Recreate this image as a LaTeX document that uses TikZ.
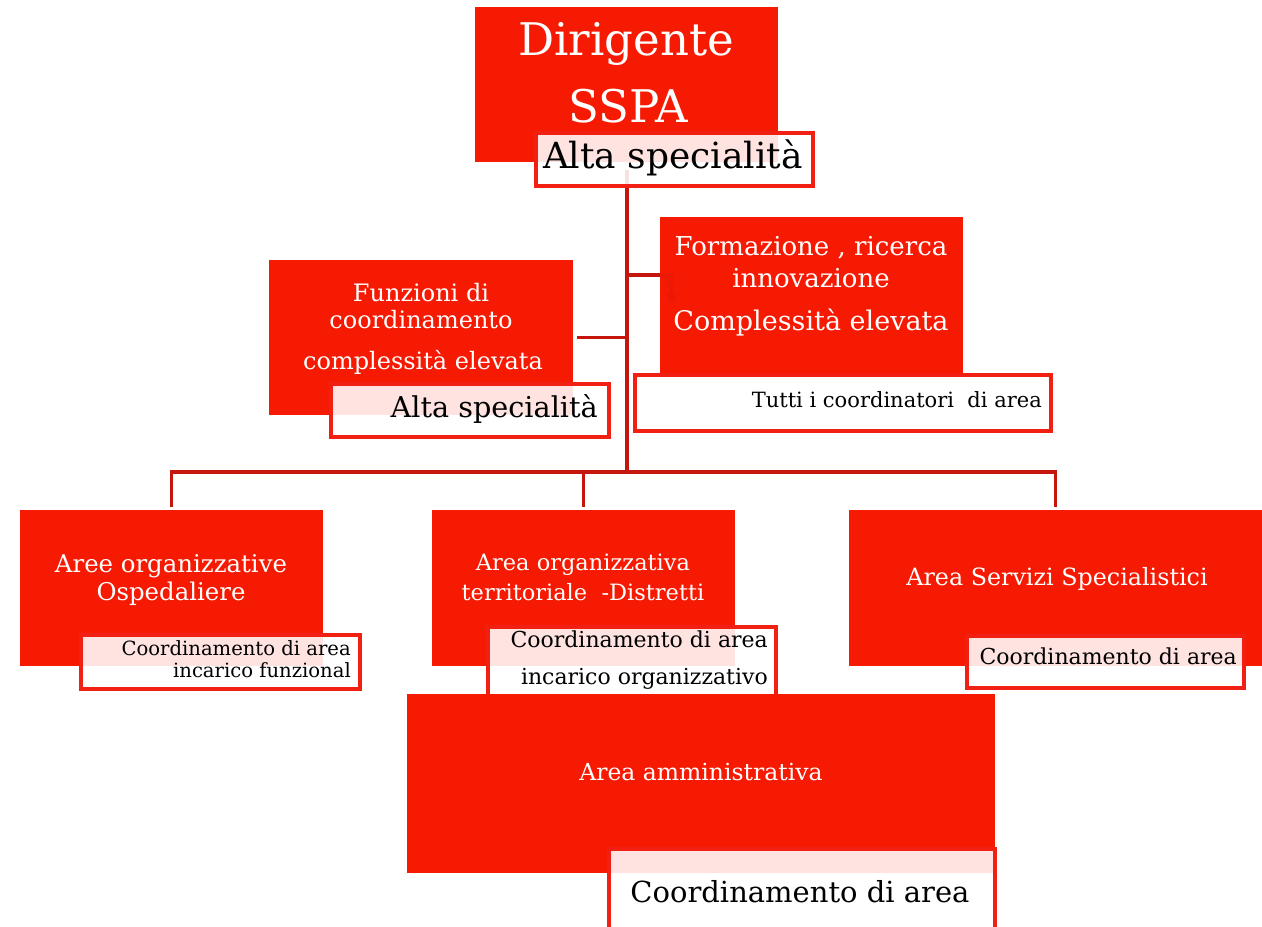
\documentclass[tikz,border=0pt]{standalone}
\usepackage{fontspec}
\setmainfont{DejaVu Serif}
\usetikzlibrary{arrows.meta}
\definecolor{boxred}{RGB}{247,26,2}
\definecolor{linered}{RGB}{196,22,12}
\definecolor{subred}{RGB}{242,32,18}
\tikzset{
  redbox/.style={fill=boxred, draw=none, inner sep=0pt, anchor=north west},
  subbox/.style={fill=white, fill opacity=0.88, draw=subred, draw opacity=1, line width=3.5pt, inner sep=0pt, anchor=north west},
  conn/.style={draw=linered, line width=3.5pt},
  wtxt/.style={text=white, inner sep=0pt, anchor=base},
  btxt/.style={text=black, inner sep=0pt, anchor=base east},
  fs/.style={font=\fontsize{#1}{#1}\selectfont},
}
\begin{document}
\begin{tikzpicture}[x=1pt,y=-1pt]
\useasboundingbox[fill=white] (0,0) rectangle (1262,927);

% ---- named points for connectors
\coordinate (trunkTop) at (627,170);
\coordinate (bus) at (627,472);
\coordinate (fbranch) at (627,275);
\coordinate (farrow) at (672,305);

% ---- boxes
\node[redbox, minimum width=303pt, minimum height=155pt] (dir) at (475,7) {};
\node[redbox, minimum width=304pt, minimum height=155pt] (funz) at (269,260) {};
\node[redbox, minimum width=303pt, minimum height=156pt] (aree) at (20,510) {};
\node[redbox, minimum width=303pt, minimum height=156pt] (terr) at (432,510) {};
\node[redbox, minimum width=413pt, minimum height=156pt] (serv) at (849,510) {};

\draw[conn] (trunkTop) -- (bus);
\draw[conn] ([yshift=3pt]aree.north) |- (bus) -| ([yshift=3pt]serv.north);
\draw[conn] ([yshift=3pt]terr.north) -- (terr.north |- bus);
\draw[conn] ([xshift=4pt]funz.east) -- (funz.east -| bus);
\draw[conn, -{Triangle[length=12pt,width=14pt]}] (fbranch) -| (farrow);

\node[redbox, minimum width=303pt, minimum height=156pt] (form) at (660,217) {};
\draw[conn, draw opacity=0.12, fill opacity=0.12, fill=linered, -{Triangle[length=12pt,width=14pt]}] (form.west |- fbranch) -| (farrow);

% ---- sub boxes
\node[subbox, minimum width=277pt, minimum height=53pt] (alta1) at (534,131) {};
\node[subbox, minimum width=278pt, minimum height=53pt] (alta2) at (329,382) {};
\node[subbox, minimum width=416pt, minimum height=56pt] (tutti) at (633,373) {};
\node[subbox, minimum width=279pt, minimum height=54pt] (areesub) at (79,633) {};
\node[subbox, minimum width=288pt, minimum height=80pt] (terrsub) at (486,625) {};
\node[subbox, minimum width=277pt, minimum height=52pt] (servsub) at (965,634) {};

\node[redbox, minimum width=588pt, minimum height=179pt] (amm) at (407,694) {};
\node[subbox, minimum width=386pt, minimum height=95pt] (ammsub) at (607,847) {};

% ---- texts
\node[wtxt, fs=45] (tdir1) at (626,55) {Dirigente};
\node[wtxt, fs=45] (tdir2) at (628,122) {SSPA};
\node[btxt, fs=36] (talta1) at (803,168) {Alta specialità};

\node[wtxt, fs=24] (tfunz1) at (421,301) {Funzioni di};
\node[wtxt, fs=24] (tfunz2) at (421,328) {coordinamento};
\node[wtxt, fs=24] (tfunz3) at (423,369) {complessità elevata};
\node[btxt, fs=28.7] (talta2) at (598,417) {Alta specialità};

\node[wtxt, fs=26] (tform1) at (811,255) {Formazione , ricerca};
\node[wtxt, fs=26] (tform2) at (811,287) {innovazione};
\node[wtxt, fs=27] (tform3) at (811,330) {Complessità elevata};
\node[btxt, fs=21] (ttutti) at (1042,407) {Tutti i coordinatori~ di area};

\node[wtxt, fs=24.4] (taree1) at (171,572) {Aree organizzative};
\node[wtxt, fs=24.4] (taree2) at (171,600) {Ospedaliere};
\node[btxt, fs=19.6] (tareesub1) at (351,655) {Coordinamento di area};
\node[btxt, fs=19.6] (tareesub2) at (351,677) {incarico funzional};

\node[wtxt, fs=22.5] (tterr1) at (583,570) {Area organizzativa};
\node[wtxt, fs=22.5] (tterr2) at (583,600) {territoriale~ -Distretti};
\node[btxt, fs=22] (tterrsub1) at (768,647) {Coordinamento di area};
\node[btxt, fs=22] (tterrsub2) at (768,684) {incarico organizzativo};

\node[wtxt, fs=23.8] (tserv) at (1057,585) {Area Servizi Specialistici};
\node[btxt, fs=22] (tservsub) at (1237,664) {Coordinamento di area};

\node[wtxt, fs=23.5] (tamm) at (701,780) {Area amministrativa};
\node[wtxt, text=black, fs=29] (tammsub) at (800,902) {Coordinamento di area};
\end{tikzpicture}
\end{document}
